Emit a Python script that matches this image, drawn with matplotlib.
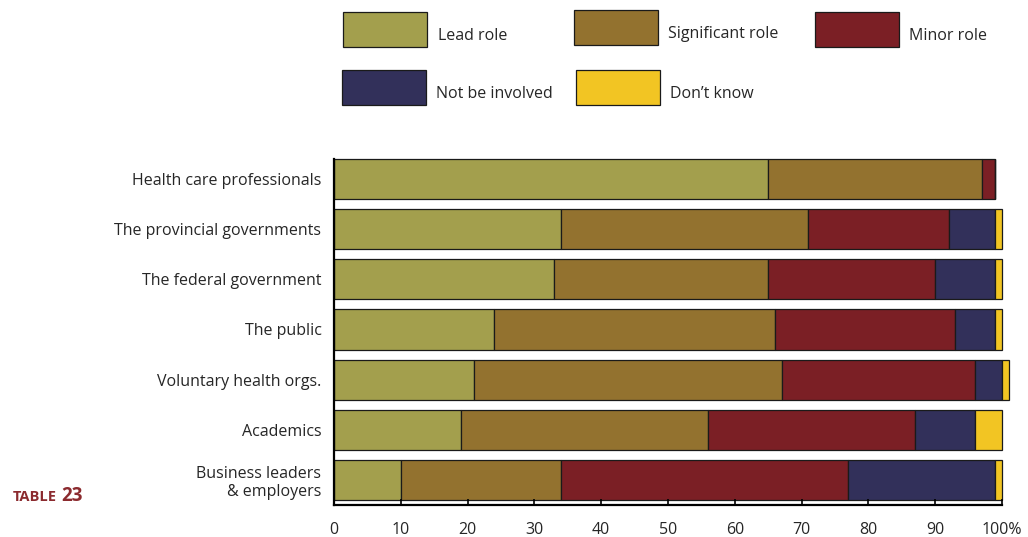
import matplotlib
matplotlib.use("Agg")
import matplotlib.pyplot as plt
from matplotlib.patches import Rectangle
import numpy as np

plt.rcParams['font.family'] = ['Open Sans', 'DejaVu Sans']

categories = [
    "Health care professionals",
    "The provincial governments",
    "The federal government",
    "The public",
    "Voluntary health orgs.",
    "Academics",
    "Business leaders\n& employers",
]
series_names = ["Lead role", "Significant role", "Minor role", "Not be involved", "Don\u2019t know"]
lead_role = [65, 34, 33, 24, 21, 19, 10]
significant_role = [32, 37, 32, 42, 46, 37, 24]
minor_role = [2, 21, 25, 27, 29, 31, 43]
not_involved = [0, 7, 9, 6, 4, 9, 22]
dont_know = [0, 1, 1, 1, 1, 4, 1]
x_ticks = [0, 10, 20, 30, 40, 50, 60, 70, 80, 90, 100]
x_tick_labels = ["0", "10", "20", "30", "40", "50", "60", "70", "80", "90", "100%"]

colors = ["#A39F4D", "#93722F", "#7B1F25", "#32305A", "#F2C523"]
text_color = "#262626"

W, H = 1028, 537
fig = plt.figure(figsize=(W / 100, H / 100), dpi=100)
ax = fig.add_axes([334 / W, 1 - 505 / H, 668 / W, 346 / H])

y = np.arange(len(categories))
left = np.zeros(len(categories))
for vals, col in zip([lead_role, significant_role, minor_role, not_involved, dont_know], colors):
    vals = np.array(vals, dtype=float)
    bars = ax.barh(y, vals, left=left, height=0.8, color=col, edgecolor="#1a1a1a", linewidth=0.9)
    for b in bars:
        b.set_clip_on(False)
    left += vals

ax.set_xlim(0, 100)
ax.set_ylim(len(categories) - 0.5, -0.4)
ax.set_yticks(y)
ax.set_yticklabels(categories, fontsize=11.5, color=text_color, linespacing=1.2)
ax.tick_params(axis="y", length=0, pad=9)
ax.set_xticks(x_ticks)
ax.set_xticklabels(x_tick_labels, fontsize=11.5, color=text_color)
ax.tick_params(axis="x", direction="in", length=4, width=1.2, pad=12, color="black")
for s in ["top", "right"]:
    ax.spines[s].set_visible(False)
for s in ["left", "bottom"]:
    ax.spines[s].set_linewidth(1.6)
    ax.spines[s].set_color("black")

# Legend boxes drawn in figure pixel space
legend_items = [
    (343, 12, 438), (574, 10, 668), (815, 12, 909),
    (342, 70, 436), (576, 70, 670),
]
for (px, py, tx), name, col in zip(legend_items, series_names, colors):
    fig.patches.append(Rectangle((px / W, 1 - (py + 35) / H), 84 / W, 35 / H,
                                 transform=fig.transFigure, facecolor=col,
                                 edgecolor="#1a1a1a", linewidth=0.9))
    fig.text(tx / W, 1 - (py + 24) / H, name, fontsize=11.5, color=text_color,
             ha="left", va="center")

fig.text(13 / W, 1 - 497 / H, "TABLE", fontsize=10.5, fontweight="bold",
         color="#8B2A2E", ha="left", va="center")
fig.text(61 / W, 1 - 496 / H, "23", fontsize=13.5, fontweight="bold",
         color="#8B2A2E", ha="left", va="center")

fig.savefig("out.png", dpi=100, facecolor="white")
